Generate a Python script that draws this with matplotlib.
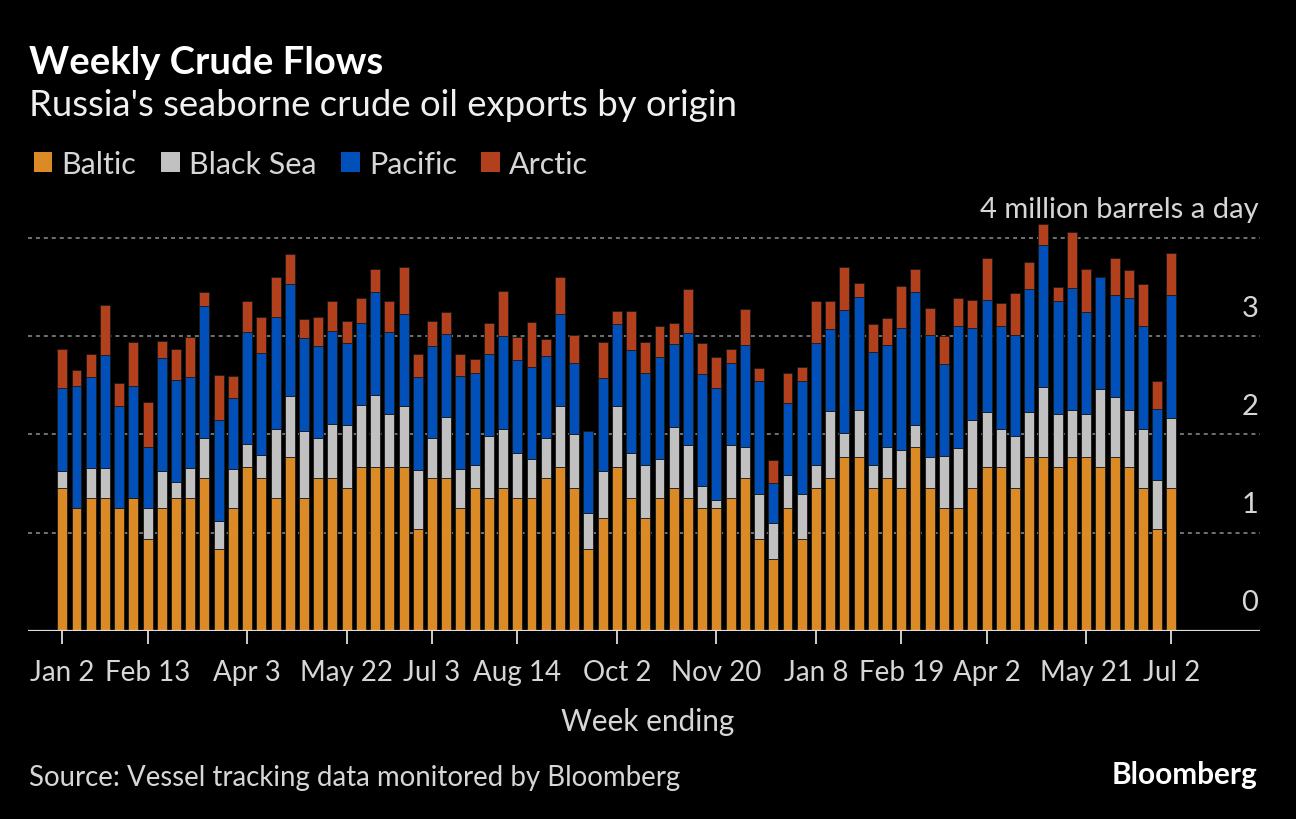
import matplotlib
matplotlib.use("Agg")
import matplotlib.pyplot as plt
import numpy as np
from matplotlib.patches import Patch
import matplotlib.transforms as mtransforms

plt.rcParams['font.family'] = ['Lato', 'DejaVu Sans']

# weekly exports, million barrels a day (Jan 2 2022 .. Jul 2 2023)
baltic = [1.46, 1.25, 1.35, 1.35, 1.25, 1.35, 0.94, 1.25, 1.35, 1.35,
          1.56, 0.83, 1.25, 1.67, 1.56, 1.35, 1.77, 1.35, 1.56, 1.56,
          1.46, 1.67, 1.67, 1.67, 1.67, 1.04, 1.56, 1.56, 1.25, 1.46,
          1.35, 1.46, 1.35, 1.35, 1.56, 1.67, 1.46, 0.83, 1.15, 1.67,
          1.35, 1.15, 1.35, 1.46, 1.35, 1.25, 1.25, 1.35, 1.56, 0.94,
          0.73, 1.25, 0.94, 1.46, 1.56, 1.77, 1.77, 1.46, 1.56, 1.46,
          1.87, 1.46, 1.25, 1.25, 1.46, 1.67, 1.67, 1.46, 1.77, 1.77,
          1.67, 1.77, 1.77, 1.67, 1.77, 1.67, 1.46, 1.04, 1.46]
black_sea = [0.17, 0.00, 0.31, 0.31, 0.00, 0.00, 0.31, 0.38, 0.17, 0.31,
             0.40, 0.29, 0.40, 0.23, 0.23, 0.71, 0.62, 0.69, 0.40, 0.55,
             0.64, 0.63, 0.73, 0.54, 0.62, 0.60, 0.40, 0.62, 0.40, 0.23,
             0.63, 0.60, 0.46, 0.40, 0.40, 0.62, 0.54, 0.37, 0.48, 0.62,
             0.46, 0.54, 0.40, 0.62, 0.54, 0.23, 0.08, 0.54, 0.31, 0.45,
             0.37, 0.34, 0.45, 0.23, 0.68, 0.25, 0.48, 0.23, 0.31, 0.38,
             0.23, 0.31, 0.53, 0.61, 0.69, 0.56, 0.39, 0.52, 0.46, 0.71,
             0.54, 0.48, 0.44, 0.79, 0.61, 0.58, 0.60, 0.50, 0.71]
pacific = [0.84, 1.24, 0.93, 1.15, 1.04, 1.14, 0.62, 1.15, 1.03, 0.93,
           1.35, 1.03, 0.72, 1.14, 1.04, 1.14, 1.14, 0.94, 0.94, 0.94,
           0.83, 0.83, 1.05, 0.83, 0.94, 0.95, 0.94, 0.84, 0.95, 0.94,
           0.84, 0.94, 0.95, 0.94, 0.84, 0.94, 0.73, 0.84, 0.94, 0.83,
           1.05, 0.94, 1.04, 0.84, 1.14, 1.14, 1.14, 0.84, 1.04, 1.15,
           0.41, 0.73, 1.15, 1.24, 0.83, 1.25, 1.15, 1.15, 1.04, 1.24,
           1.35, 1.24, 0.94, 1.24, 0.93, 1.14, 1.04, 1.03, 1.25, 1.45,
           1.15, 1.24, 1.04, 1.14, 1.04, 1.14, 1.04, 0.72, 1.25]
arctic = [0.40, 0.17, 0.23, 0.51, 0.23, 0.45, 0.46, 0.17, 0.32, 0.40,
          0.14, 0.46, 0.23, 0.32, 0.37, 0.40, 0.31, 0.20, 0.30, 0.31,
          0.23, 0.26, 0.23, 0.32, 0.47, 0.23, 0.26, 0.23, 0.22, 0.14,
          0.31, 0.46, 0.23, 0.45, 0.17, 0.37, 0.28, 0.00, 0.37, 0.14,
          0.40, 0.31, 0.31, 0.21, 0.45, 0.31, 0.32, 0.14, 0.37, 0.14,
          0.23, 0.31, 0.15, 0.43, 0.29, 0.43, 0.14, 0.28, 0.28, 0.43,
          0.23, 0.28, 0.28, 0.29, 0.29, 0.43, 0.24, 0.43, 0.28, 0.21,
          0.14, 0.57, 0.43, 0.00, 0.38, 0.28, 0.43, 0.28, 0.43]

series_names = ["Baltic", "Black Sea", "Pacific", "Arctic"]
series_colors = ["#DC8A26", "#C1C1C1", "#0150B9", "#B3401C"]

tick_weeks = [0, 6, 13, 20, 26, 32, 39, 46, 53, 59, 65, 72, 78]
tick_labels = ["Jan 2", "Feb 13", "Apr 3", "May 22", "Jul 3", "Aug 14", "Oct 2",
               "Nov 20", "Jan 8", "Feb 19", "Apr 2", "May 21", "Jul 2"]
y_ticks = [0, 1, 2, 3, 4]

BG = "#000000"
TXT = "#D6D6D6"

fig = plt.figure(figsize=(12.96, 8.2), dpi=100, facecolor=BG)
ax = fig.add_axes([28 / 1296, 188 / 820, 1232 / 1296, 422.5 / 820])
ax.set_facecolor(BG)

x = np.arange(len(baltic))
bottom = np.zeros(len(baltic))
for name, vals, col in zip(series_names, [baltic, black_sea, pacific, arctic], series_colors):
    vals = np.array(vals)
    ax.bar(x, vals, width=0.7, bottom=bottom, color=col, edgecolor="#1a1a1a",
           linewidth=0.6, zorder=3)
    bottom += vals

ax.set_xlim(-2.41, 84.23)
ax.set_ylim(0, 4.3)

# dashed gridlines and right-hand labels
trans = mtransforms.blended_transform_factory(ax.transAxes, ax.transData)
for v in y_ticks:
    if v > 0:
        ax.axhline(v, color="#7a7a7a", linestyle=(0, (2.2, 2.2)), linewidth=1.3, zorder=1)
    lab = "4 million barrels a day" if v == 4 else str(v)
    ax.text(0.9985, v + 0.16, lab, transform=trans, ha="right", va="bottom",
            color=TXT, fontsize=21)
ax.axhline(0, color="#DDDDDD", linewidth=1.6, zorder=4)

for s in ax.spines.values():
    s.set_visible(False)
ax.set_yticks([])
ax.set_xticks(tick_weeks)
ax.set_xticklabels(tick_labels, fontsize=20, color=TXT)
ax.tick_params(axis="x", colors="#DDDDDD", length=9, width=1.3, pad=11, labelcolor=TXT)

# header
fig.text(29 / 1296, 1 - 63 / 820, "Weekly Crude Flows", color="white",
         fontsize=27.5, fontweight="bold", va="center", ha="left")
fig.text(29 / 1296, 1 - 106 / 820, "Russia's seaborne crude oil exports by origin",
         color="#F0F0F0", fontsize=26.3, va="center", ha="left")

handles = [Patch(facecolor=c, edgecolor="none") for c in series_colors]
fig.legend(handles, series_names, loc="center left", bbox_to_anchor=(6 / 1296, 1 - 165 / 820),
           ncol=4, frameon=False, fontsize=22, labelcolor=TXT, handlelength=0.62,
           handleheight=0.62, handletextpad=0.3, columnspacing=0.8)

fig.text(0.5, 1 - 722 / 820, "Week ending", color=TXT, fontsize=21.4, ha="center", va="center")
fig.text(29 / 1296, 1 - 778 / 820, "Source: Vessel tracking data monitored by Bloomberg",
         color=TXT, fontsize=19.9, ha="left", va="center")
fig.text(1257 / 1296, 1 - 775 / 820, "Bloomberg", color="white", fontsize=21.4,
         fontweight="bold", ha="right", va="center")

fig.savefig("out.png", dpi=100, facecolor=BG)
